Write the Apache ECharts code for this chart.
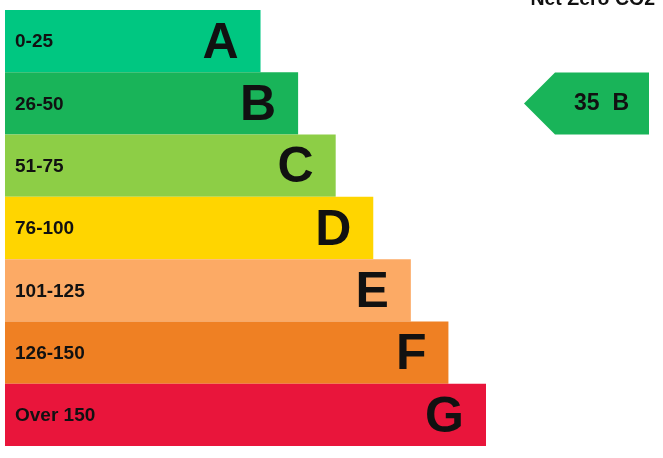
<!DOCTYPE html>
<html><head><meta charset="utf-8">
<script src="https://cdn.jsdelivr.net/npm/echarts@6/dist/echarts.min.js"></script>
<style>html,body{margin:0;padding:0;background:#fff}#c{width:663px;height:458px}</style>
</head><body><div id="c"></div>
<script>
const bands = ['A','B','C','D','E','F','G'];
const ranges = ['0-25','26-50','51-75','76-100','101-125','126-150','Over 150'];
const barLengths = [68, 78, 88, 98, 108, 118, 128];
const colors = ['#00c781','#19b459','#8dce46','#ffd500','#fcaa65','#ef8023','#e9153b'];
const currentScore = 35;
const currentBand = 'B';
const title = 'Net Zero CO2';

const font = '"Liberation Sans", Arial, sans-serif';
const bi = bands.indexOf(currentBand);
const chart = echarts.init(document.getElementById('c'));
chart.setOption({
  animation: false,
  graphic: [{type:'text', right: 8, top: -10, style:{text:title, font:'bold 19.5px ' + font, fill:'#111'}}],
  grid: [
    {left: 5, top: 10, width: 481, height: 436},
    {left: 524, top: 10, width: 125, height: 436}
  ],
  xAxis: [
    {gridIndex:0, type:'value', min:0, max:128, show:false},
    {gridIndex:1, type:'value', min:0, max:1, show:false}
  ],
  yAxis: [
    {gridIndex:0, type:'category', data:ranges, inverse:true, show:false},
    {gridIndex:1, type:'category', data:ranges, inverse:true, show:false}
  ],
  series: [
    {
      type:'bar', xAxisIndex:0, yAxisIndex:0, barWidth:'100%', silent:true,
      data: barLengths.map((v,i)=>({value:v, itemStyle:{color:colors[i]}})),
      label:{show:true, position:'insideRight', distance:22, offset:[0,3], formatter:p=>bands[p.dataIndex],
        fontFamily:font, fontWeight:'bold', fontSize:50, color:'#111'}
    },
    {
      type:'bar', xAxisIndex:0, yAxisIndex:0, barWidth:'100%', barGap:'-100%', silent:true,
      data: barLengths, itemStyle:{color:'rgba(0,0,0,0)'},
      label:{show:true, position:'insideLeft', distance:10, offset:[0,1], formatter:p=>ranges[p.dataIndex],
        fontFamily:font, fontWeight:'bold', fontSize:19, color:'#111'}
    },
    {
      type:'scatter', xAxisIndex:1, yAxisIndex:1, silent:true,
      symbol:'path://M0,31 L31,0 L125,0 L125,62 L31,62 Z', symbolSize:[125,62], symbolKeepAspect:false,
      itemStyle:{color:colors[bi], opacity:1},
      data:[[0.5, ranges[bi]]],
      label:{show:true, position:'inside', offset:[15,0], formatter:currentScore + '  ' + currentBand,
        fontFamily:font, fontWeight:'bold', fontSize:23, color:'#111'}
    }
  ]
});
</script></body></html>
